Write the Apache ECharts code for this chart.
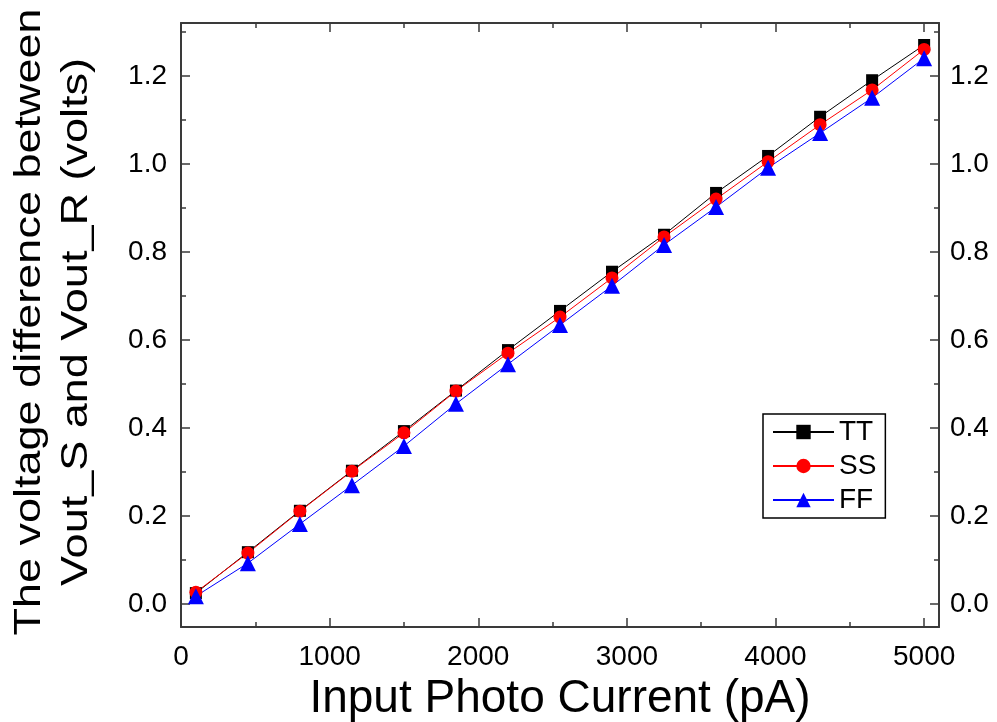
<!DOCTYPE html>
<html>
<head>
<meta charset="utf-8">
<title>Input Photo Current</title>
<script src="https://cdn.jsdelivr.net/npm/echarts@6/dist/echarts.min.js"></script>
<style>
    html, body { margin: 0; padding: 0; background: #fff; }
    #main { width: 997px; height: 722px; }
</style>
</head>
<body>
<div id="main"></div>
<script>
// 输入光电流 (pA)
var currents = [100, 450, 800, 1150, 1500, 1850, 2200, 2550, 2900, 3250, 3600, 3950, 4300, 4650, 5000];

// 三个工艺角的电压差 (volts)
var ttValues = [0.025, 0.118, 0.212, 0.303, 0.393, 0.485, 0.577, 0.666, 0.755, 0.839, 0.934, 1.018, 1.107, 1.190, 1.270];
var ssValues = [0.027, 0.116, 0.211, 0.302, 0.389, 0.484, 0.570, 0.652, 0.741, 0.834, 0.920, 1.005, 1.089, 1.168, 1.260];
var ffValues = [0.018, 0.093, 0.182, 0.270, 0.359, 0.455, 0.545, 0.634, 0.723, 0.816, 0.902, 0.991, 1.070, 1.150, 1.240];

var seriesNames = ['TT', 'SS', 'FF'];

// 刻度
var xMajorTicks = [0, 1000, 2000, 3000, 4000, 5000];
var xMinorTicks = [500, 1500, 2500, 3500, 4500];
var yMajorTicks = [0, 0.2, 0.4, 0.6, 0.8, 1.0, 1.2];
var yMinorTicks = [0.1, 0.3, 0.5, 0.7, 0.9, 1.1, 1.3];

var fontName = '"Liberation Sans", Arial, sans-serif';
var axisColor = '#3a3a3a';

var pairs = function (xs, ys) {
    var out = [];
    for (var i = 0; i < xs.length; i++) {
        out.push([xs[i], ys[i]]);
    }
    return out;
};

// 刻度朝内: customValues 配合 inside 不显示, 所以用负的 length
var makeXAxis = function (position, ticks, tickLen, showLine, showLabel) {
    return {
        type: 'value',
        position: position,
        min: 0,
        max: 5100,
        splitLine: { show: false },
        axisLine: { show: showLine, onZero: false, lineStyle: { color: axisColor, width: 2 } },
        axisTick: { show: true, inside: false, length: -tickLen, customValues: ticks, lineStyle: { color: axisColor, width: 1.5 } },
        axisLabel: {
            show: showLabel,
            customValues: ticks,
            margin: 16,
            color: '#000',
            fontSize: 28,
            fontFamily: fontName,
            formatter: function (v) { return String(v); }
        }
    };
};

var makeYAxis = function (position, ticks, tickLen, showLine, showLabel) {
    return {
        type: 'value',
        position: position,
        min: -0.052,
        max: 1.32,
        splitLine: { show: false },
        axisLine: { show: showLine, onZero: false, lineStyle: { color: axisColor, width: 2 } },
        axisTick: { show: true, inside: false, length: -tickLen, customValues: ticks, lineStyle: { color: axisColor, width: 1.5 } },
        axisLabel: {
            show: showLabel,
            customValues: ticks,
            margin: position === 'left' ? 14 : 11,
            color: '#000',
            fontSize: 28,
            fontFamily: fontName,
            formatter: function (v) { return v.toFixed(1); }
        }
    };
};

var makeSeries = function (name, values, color, symbol, size) {
    return {
        name: name,
        type: 'line',
        xAxisIndex: 0,
        yAxisIndex: 0,
        data: pairs(currents, values),
        symbol: symbol,
        symbolSize: size,
        lineStyle: { color: color, width: 1 },
        itemStyle: { color: color },
        animation: false
    };
};

var myChart = echarts.init(document.getElementById('main'));

var xAxisName = makeXAxis('bottom', xMajorTicks, 9, true, true);
xAxisName.name = 'Input Photo Current (pA)';
xAxisName.nameLocation = 'middle';
xAxisName.nameGap = 49;
xAxisName.nameTextStyle = { color: '#000', fontSize: 46, fontFamily: fontName };

var option = {
    backgroundColor: '#fff',
    animation: false,
    grid: { left: 181, top: 23, right: 58, bottom: 95, outerBoundsMode: 'none', containLabel: false },
    legend: {
        data: seriesNames,
        orient: 'vertical',
        left: 763,
        top: 414,
        itemWidth: 61,
        itemHeight: 18,
        itemGap: 6,
        padding: [4, 9],
        borderColor: '#000',
        borderWidth: 1.5,
        backgroundColor: '#fff',
        textStyle: { color: '#000', fontSize: 28, fontFamily: fontName }
    },
    xAxis: [
        xAxisName,
        makeXAxis('bottom', xMinorTicks, 5, false, false),
        makeXAxis('top', xMajorTicks, 9, true, false),
        makeXAxis('top', xMinorTicks, 5, false, false)
    ],
    yAxis: [
        makeYAxis('left', yMajorTicks, 9, true, true),
        makeYAxis('left', yMinorTicks, 5, false, false),
        makeYAxis('right', yMajorTicks, 9, true, true),
        makeYAxis('right', yMinorTicks, 5, false, false)
    ],
    graphic: [
        {
            type: 'text',
            x: 30,
            y: 322,
            rotation: Math.PI / 2,
            scaleX: 1.25,
            style: {
                text: 'The voltage difference between',
                fill: '#000',
                fontSize: 36,
                fontFamily: fontName,
                align: 'center',
                verticalAlign: 'middle'
            }
        },
        {
            type: 'text',
            x: 77,
            y: 322,
            rotation: Math.PI / 2,
            scaleX: 1.25,
            style: {
                text: 'Vout_S and Vout_R (volts)',
                fill: '#000',
                fontSize: 36,
                fontFamily: fontName,
                align: 'center',
                verticalAlign: 'middle'
            }
        }
    ],
    series: [
        makeSeries('TT', ttValues, '#000000', 'rect', 12),
        makeSeries('SS', ssValues, '#ff0000', 'circle', 13),
        makeSeries('FF', ffValues, '#0000ff', 'triangle', 16)
    ]
};

myChart.setOption(option);
</script>
</body>
</html>
